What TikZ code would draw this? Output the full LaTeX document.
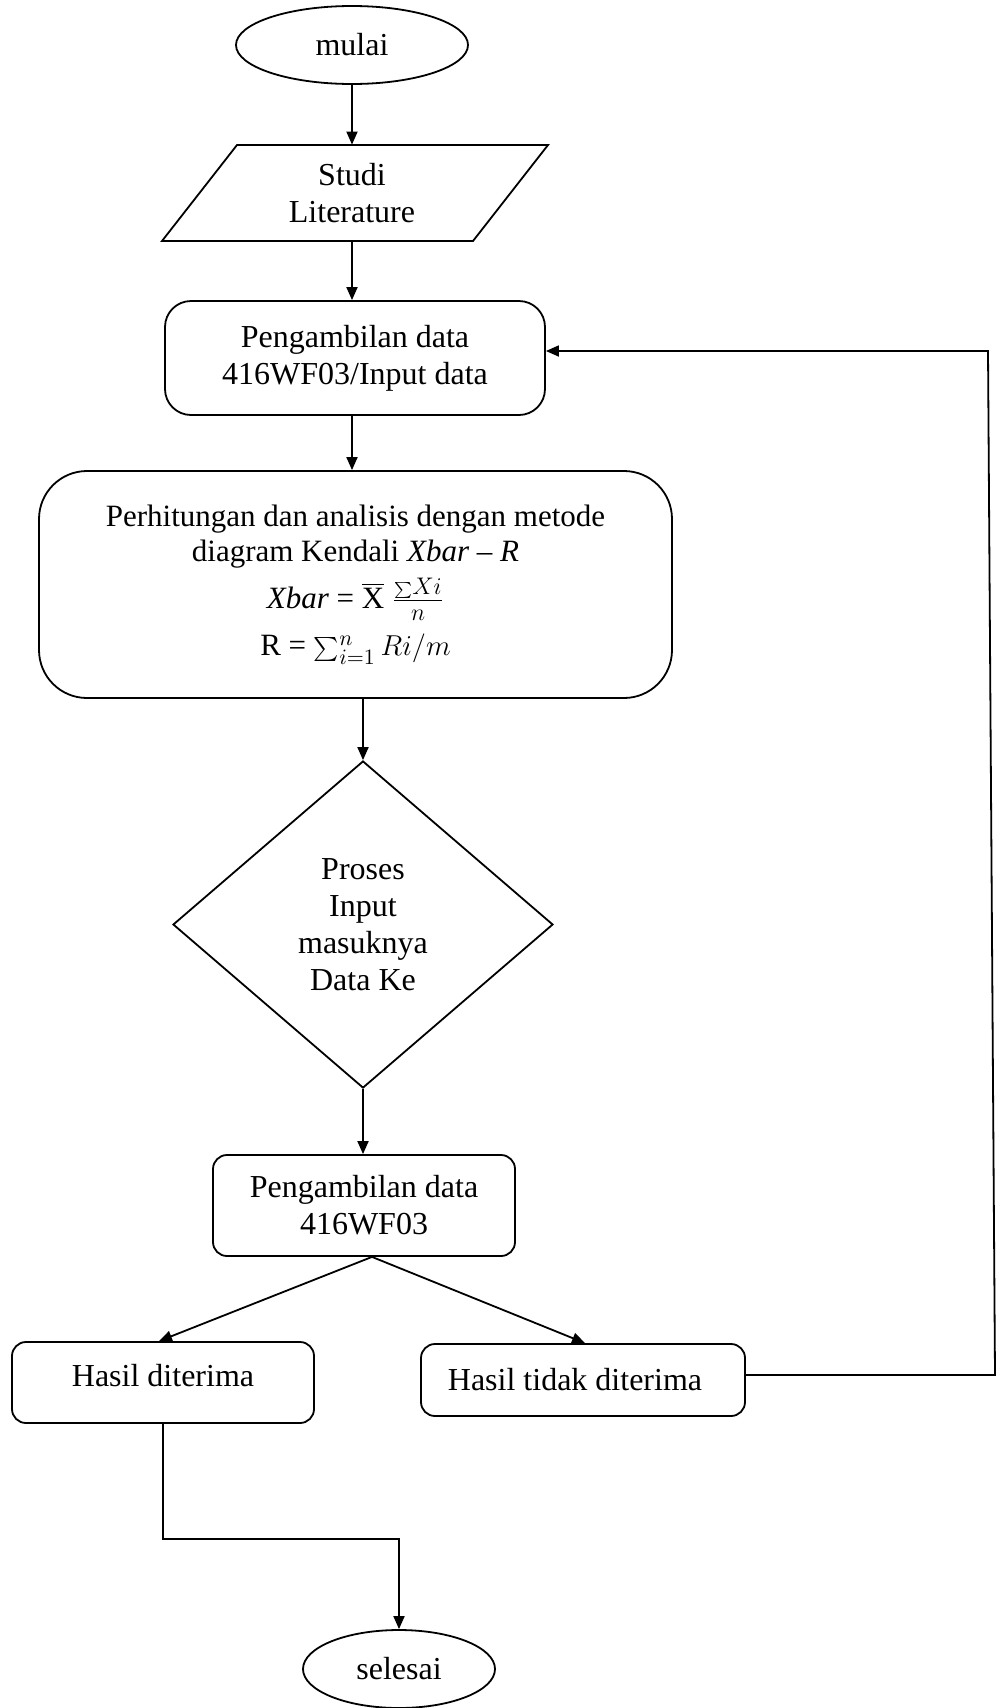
\documentclass[tikz,border=0pt]{standalone}
\usepackage{exscale}
\usepackage{fontspec}
\setmainfont{Liberation Serif}
\usetikzlibrary{shapes.geometric,arrows.meta}
\newcommand{\smallsum}[1]{\mathop{\hbox{\fontsize{#1}{#1}\selectfont$\sum$}}}
\begin{document}
\begin{tikzpicture}[x=0.5pt,y=-0.5pt,
  every node/.style={font=\fontsize{16pt}{18.5pt}\selectfont, align=center, inner sep=0pt},
  base/.style={draw, line width=0.9pt},
  term/.style={base, ellipse},
  boxA/.style={base, rectangle, rounded corners=13pt},
  boxB/.style={base, rectangle, rounded corners=24pt},
  boxC/.style={base, rectangle, rounded corners=7pt},
  dia/.style={base, diamond},
  arr/.style={-{Triangle[length=6.5pt,width=5.5pt]}, line width=0.9pt},
  conn/.style={line width=0.9pt}]
\fill[white] (0,0) rectangle (1000,1708);
\useasboundingbox (0,0) rectangle (1000,1708);

% nodes
\node[term, minimum width=116pt, minimum height=39pt] (mulai) at (352,45) {mulai};
\draw[base] (237,145) -- (548,145) -- (473,241) -- (162,241) -- cycle;
\node[minimum width=100pt, minimum height=48pt] (lit) at (352,193) {Studi\\Literature};
\node[boxA, minimum width=190pt, minimum height=57pt] (b1) at (355,358) {Pengambilan data\\416WF03/Input data};
\node[boxB, minimum width=316.5pt, minimum height=113.5pt, font=\fontsize{15.5pt}{17.5pt}\selectfont] (b2) at (355.5,584.5)
  {Perhitungan dan analisis dengan metode\\
   diagram Kendali \textit{Xbar} – \textit{R}\\[4pt]
   \textit{Xbar} = $\overline{\mbox{X}}$ {\fontsize{18pt}{18pt}\selectfont$\frac{\hbox{\fontsize{8pt}{8pt}\selectfont$\sum$}Xi}{n}$}\\[6pt]
   R = $\smallsum{12pt}\nolimits_{i=1}^{n} Ri/m$};
\node[dia, minimum width=190pt, minimum height=163.5pt] (d) at (363,924.5) {Proses\\Input\\masuknya\\Data Ke};
\node[boxC, minimum width=151pt, minimum height=50.5pt] (b3) at (364,1205.5) {Pengambilan data\\416WF03};
\node[boxC, minimum width=151pt, minimum height=40.5pt, text depth=7pt] (hd) at (163,1382.5) {Hasil diterima};
\node[boxC, minimum width=162pt, minimum height=36pt, inner xsep=0pt] (htd) at (583,1380) {Hasil tidak diterima\hspace{8pt}};
\node[term, minimum width=96pt, minimum height=39pt] (sel) at (399,1669) {selesai};

\coordinate (fbA) at (995,1375);
\coordinate (fbB) at (988,351);
\coordinate (turn) at (163,1539);

% connectors
\draw[arr] (mulai.south) -- (mulai.south |- lit.north);
\draw[arr] (lit.south) -- (lit.south |- b1.north);
\draw[arr] (b1.south -| lit.south) -- (lit.south |- b2.north);
\draw[arr] (d.north |- b2.south) -- (d.north);
\draw[arr] (d.south) -- (d.south |- b3.north);
\draw[arr] ([xshift=4pt]b3.south) -- ([xshift=-2pt]hd.north);
\draw[arr] ([xshift=4pt]b3.south) -- ([xshift=1pt]htd.north);
\draw[arr] (hd.south) -- (turn) -- (turn -| sel.north) -- (sel.north);
\draw[arr] (htd.east |- fbA) -- (fbA) -- (fbB) -- (fbB -| b1.east);
\end{tikzpicture}
\end{document}
